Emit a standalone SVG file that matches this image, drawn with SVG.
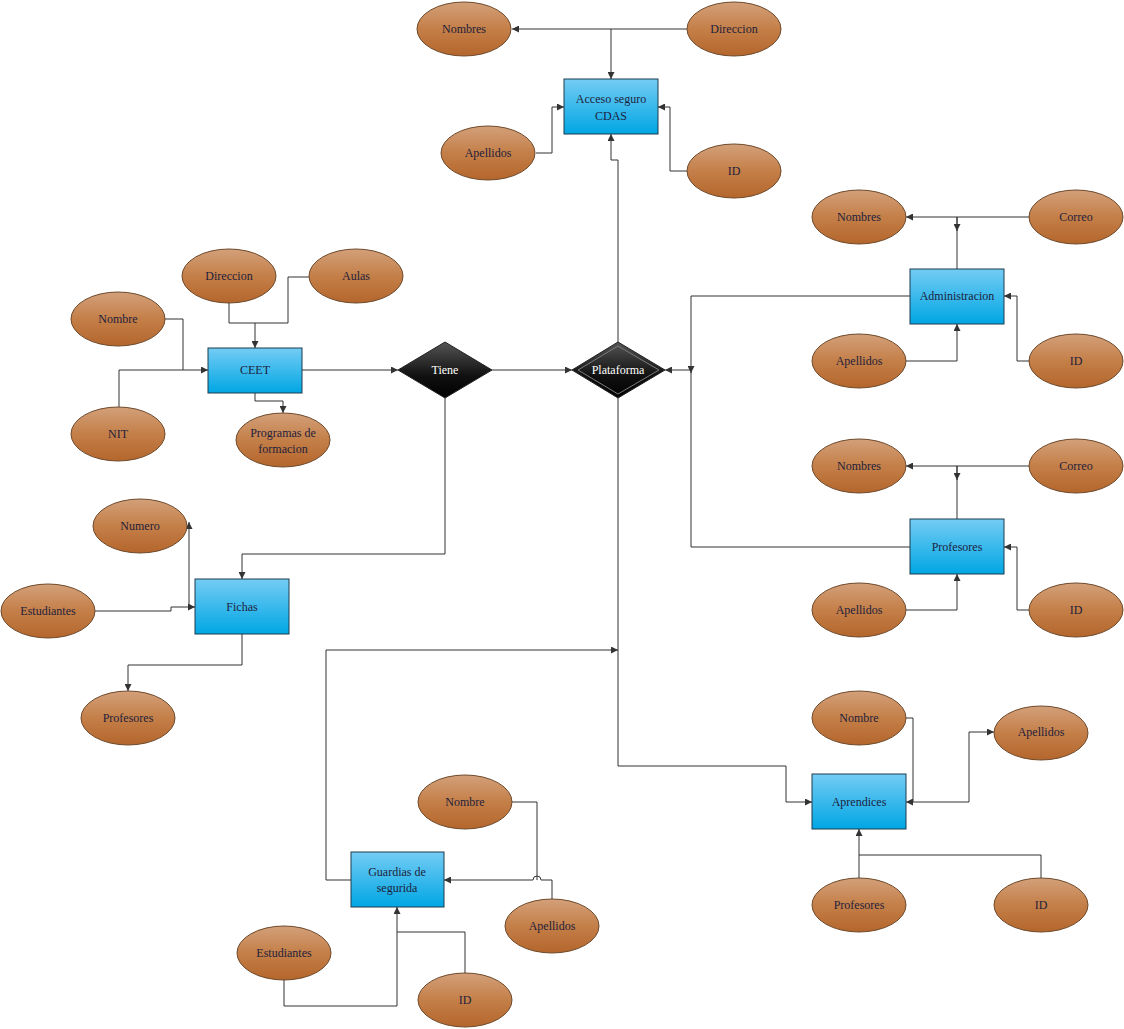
<svg xmlns="http://www.w3.org/2000/svg" width="1124" height="1029" viewBox="0 0 1124 1029">
<defs>
<linearGradient id="gEll" x1="0" y1="0" x2="0" y2="1">
<stop offset="0" stop-color="#d3a07a"/>
<stop offset="0.5" stop-color="#c47f48"/>
<stop offset="1" stop-color="#b4662c"/>
</linearGradient>
<linearGradient id="gBox" x1="0" y1="0" x2="0" y2="1">
<stop offset="0" stop-color="#74ccf4"/>
<stop offset="1" stop-color="#00a6e4"/>
</linearGradient>
<linearGradient id="gDia" x1="0" y1="0" x2="0" y2="1">
<stop offset="0" stop-color="#555555"/>
<stop offset="0.6" stop-color="#111111"/>
<stop offset="1" stop-color="#000000"/>
</linearGradient>
<marker id="arr" markerWidth="7" markerHeight="7" refX="7" refY="3.5" orient="auto" markerUnits="userSpaceOnUse">
<path d="M0,0 L7,3.5 L0,7 z" fill="#333"/>
</marker>
</defs>
<style>
.ell{fill:url(#gEll);stroke:#6e4a2c;stroke-width:1}
.box{fill:url(#gBox);stroke:#1f3a4d;stroke-width:1}
.dia{fill:url(#gDia);stroke:#222;stroke-width:1}
.t{font-family:"Liberation Serif","Times New Roman",serif;font-size:12px;fill:#1e1e3c;text-anchor:middle;dominant-baseline:central}
.tw{font-family:"Liberation Serif","Times New Roman",serif;font-size:12px;fill:#ffffff;text-anchor:middle;dominant-baseline:central}
.c{fill:none;stroke:#333;stroke-width:1}
.ca{fill:none;stroke:#333;stroke-width:1;marker-end:url(#arr)}
</style>
<rect width="1124" height="1029" fill="#ffffff"/>

<g id="connectors">
<!-- Acceso seguro CDAS -->
<path class="ca" d="M687,29 L512,29"/>
<path class="ca" d="M611,29 L611,79"/>
<path class="ca" d="M536,153 L552,153 L552,107 L564,107"/>
<path class="ca" d="M687,171 L670,171 L670,107 L658,107"/>
<path class="ca" d="M618,343 L618,160 L611,160 L611,134"/>
<!-- CEET -->
<path class="c" d="M229,303 L229,323 L255,323"/>
<path class="ca" d="M309,277 L288,277 L288,323 L255,323 L255,348"/>
<path class="ca" d="M165,319 L183,319 L183,370 L208,370"/>
<path class="c" d="M119,407 L119,370 L183,370"/>
<path class="ca" d="M255,393 L255,401 L283,401 L283,413"/>
<path class="ca" d="M302,370 L398,370"/>
<path class="ca" d="M492,370 L572,370"/>
<!-- Administracion / Profesores to Plataforma -->
<path class="ca" d="M910,296 L691,296 L691,373"/>
<path class="c" d="M910,547 L691,547 L691,370"/>
<path class="ca" d="M691,370 L665,370"/>
<!-- Administracion attrs -->
<path class="ca" d="M1029,217 L906,217"/>
<path class="ca" d="M957,269 L957,217 M957,217 L957,231"/>
<path class="ca" d="M906,361 L957,361 L957,324"/>
<path class="ca" d="M1029,361 L1017,361 L1017,296 L1004,296"/>
<!-- Profesores attrs -->
<path class="ca" d="M1029,466 L906,466"/>
<path class="ca" d="M957,519 L957,466 M957,466 L957,480"/>
<path class="ca" d="M906,610 L957,610 L957,574"/>
<path class="ca" d="M1029,610 L1017,610 L1017,547 L1004,547"/>
<!-- Fichas -->
<path class="ca" d="M445,398 L445,554 L242,554 L242,579"/>
<path class="ca" d="M95,611 L171,611 L171,607 L195,607"/>
<path class="ca" d="M189,607 L189,522"/>
<path class="ca" d="M242,634 L242,665 L128,665 L128,691"/>
<!-- Plataforma to Aprendices -->
<path class="ca" d="M618,398 L618,766 L786,766 L786,802 L812,802"/>
<!-- Guardias to Plataforma line -->
<path class="ca" d="M351,880 L326,880 L326,650 L618,650"/>
<!-- Guardias attrs -->
<path class="c" d="M512,802 L537,802 L537,880"/>
<path class="ca" d="M552,899 L552,880 L541,880 A4,4 0 0 0 533,880 L444,880"/>
<path class="ca" d="M284,980 L284,1006 L397,1006 L397,907"/>
<path class="c" d="M465,973 L465,932 L397,932"/>
<!-- Aprendices attrs -->
<path class="ca" d="M906,718 L913,718 L913,802 L906,802"/>
<path class="ca" d="M913,802 L969,802 L969,732 L994,732"/>
<path class="ca" d="M859,878 L859,829"/>
<path class="c" d="M1041,878 L1041,855 L859,855"/>
</g>

<!-- Acceso seguro CDAS cluster -->
<g id="acceso"><rect class="box" x="564" y="79" width="94" height="55"/><text class="t" x="611" y="99">Acceso seguro</text><text class="t" x="611" y="116">CDAS</text></g>
<g id="acc-nombres"><ellipse class="ell" cx="464" cy="29" rx="47" ry="27"/><text class="t" x="464" y="29">Nombres</text></g>
<g id="acc-direccion"><ellipse class="ell" cx="734" cy="29" rx="47" ry="27"/><text class="t" x="734" y="29">Direccion</text></g>
<g id="acc-apellidos"><ellipse class="ell" cx="488" cy="153" rx="47" ry="27"/><text class="t" x="488" y="153">Apellidos</text></g>
<g id="acc-id"><ellipse class="ell" cx="734" cy="171" rx="47" ry="27"/><text class="t" x="734" y="171">ID</text></g>

<!-- CEET cluster -->
<g id="ceet"><rect class="box" x="208" y="348" width="94" height="45"/><text class="t" x="255" y="370">CEET</text></g>
<g id="ceet-direccion"><ellipse class="ell" cx="229" cy="276" rx="47" ry="27"/><text class="t" x="229" y="276">Direccion</text></g>
<g id="ceet-aulas"><ellipse class="ell" cx="356" cy="276" rx="47" ry="27"/><text class="t" x="356" y="276">Aulas</text></g>
<g id="ceet-nombre"><ellipse class="ell" cx="118" cy="319" rx="47" ry="27"/><text class="t" x="118" y="319">Nombre</text></g>
<g id="ceet-nit"><ellipse class="ell" cx="118" cy="434" rx="47" ry="27"/><text class="t" x="118" y="434">NIT</text></g>
<g id="ceet-programas"><ellipse class="ell" cx="283" cy="440" rx="47" ry="27"/><text class="t" x="283" y="433">Programas de</text><text class="t" x="283" y="449">formacion</text></g>

<!-- Relationships -->
<g id="tiene"><polygon class="dia" points="398,370 445,342 492,370 445,398"/><text class="tw" x="445" y="370">Tiene</text></g>
<g id="plataforma"><polygon class="dia" points="572,370 618,342 665,370 618,398"/><polygon points="578,370 618,346 659,370 618,394" fill="none" stroke="#7a7a7a" stroke-width="1"/><text class="tw" x="618" y="370">Plataforma</text></g>

<!-- Administracion cluster -->
<g id="administracion"><rect class="box" x="910" y="269" width="94" height="55"/><text class="t" x="957" y="296">Administracion</text></g>
<g id="adm-nombres"><ellipse class="ell" cx="859" cy="217" rx="47" ry="27"/><text class="t" x="859" y="217">Nombres</text></g>
<g id="adm-correo"><ellipse class="ell" cx="1076" cy="217" rx="47" ry="27"/><text class="t" x="1076" y="217">Correo</text></g>
<g id="adm-apellidos"><ellipse class="ell" cx="859" cy="361" rx="47" ry="27"/><text class="t" x="859" y="361">Apellidos</text></g>
<g id="adm-id"><ellipse class="ell" cx="1076" cy="361" rx="47" ry="27"/><text class="t" x="1076" y="361">ID</text></g>

<!-- Profesores cluster -->
<g id="profesores"><rect class="box" x="910" y="519" width="94" height="55"/><text class="t" x="957" y="547">Profesores</text></g>
<g id="prof-nombres"><ellipse class="ell" cx="859" cy="466" rx="47" ry="27"/><text class="t" x="859" y="466">Nombres</text></g>
<g id="prof-correo"><ellipse class="ell" cx="1076" cy="466" rx="47" ry="27"/><text class="t" x="1076" y="466">Correo</text></g>
<g id="prof-apellidos"><ellipse class="ell" cx="859" cy="610" rx="47" ry="27"/><text class="t" x="859" y="610">Apellidos</text></g>
<g id="prof-id"><ellipse class="ell" cx="1076" cy="610" rx="47" ry="27"/><text class="t" x="1076" y="610">ID</text></g>

<!-- Fichas cluster -->
<g id="fichas"><rect class="box" x="195" y="579" width="94" height="55"/><text class="t" x="242" y="607">Fichas</text></g>
<g id="fic-numero"><ellipse class="ell" cx="140" cy="526" rx="47" ry="27"/><text class="t" x="140" y="526">Numero</text></g>
<g id="fic-estudiantes"><ellipse class="ell" cx="48" cy="611" rx="47" ry="27"/><text class="t" x="48" y="611">Estudiantes</text></g>
<g id="fic-profesores"><ellipse class="ell" cx="128" cy="718" rx="47" ry="27"/><text class="t" x="128" y="718">Profesores</text></g>

<!-- Aprendices cluster -->
<g id="aprendices"><rect class="box" x="812" y="774" width="94" height="55"/><text class="t" x="859" y="802">Aprendices</text></g>
<g id="apr-nombre"><ellipse class="ell" cx="859" cy="718" rx="47" ry="27"/><text class="t" x="859" y="718">Nombre</text></g>
<g id="apr-apellidos"><ellipse class="ell" cx="1041" cy="733" rx="47" ry="27"/><text class="t" x="1041" y="732">Apellidos</text></g>
<g id="apr-profesores"><ellipse class="ell" cx="859" cy="905" rx="47" ry="27"/><text class="t" x="859" y="905">Profesores</text></g>
<g id="apr-id"><ellipse class="ell" cx="1041" cy="905" rx="47" ry="27"/><text class="t" x="1041" y="905">ID</text></g>

<!-- Guardias cluster -->
<g id="guardias"><rect class="box" x="351" y="852" width="93" height="55"/><text class="t" x="397" y="872">Guardias de</text><text class="t" x="397" y="888">segurida</text></g>
<g id="gua-nombre"><ellipse class="ell" cx="465" cy="802" rx="47" ry="27"/><text class="t" x="465" y="802">Nombre</text></g>
<g id="gua-apellidos"><ellipse class="ell" cx="552" cy="926" rx="47" ry="27"/><text class="t" x="552" y="926">Apellidos</text></g>
<g id="gua-estudiantes"><ellipse class="ell" cx="284" cy="953" rx="47" ry="27"/><text class="t" x="284" y="953">Estudiantes</text></g>
<g id="gua-id"><ellipse class="ell" cx="465" cy="1000" rx="47" ry="27"/><text class="t" x="465" y="1000">ID</text></g>
</svg>
